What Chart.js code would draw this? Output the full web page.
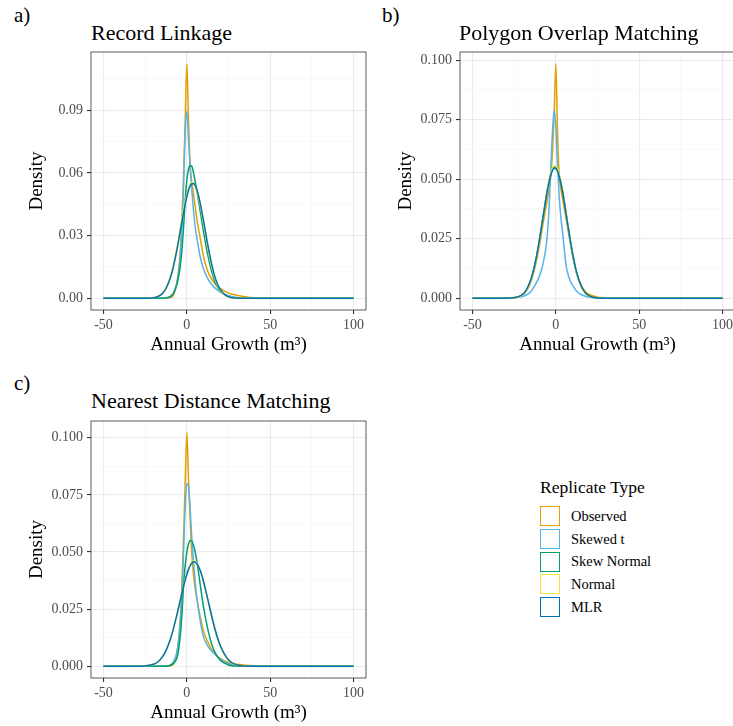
<!DOCTYPE html>
<html>
<head>
<meta charset="utf-8">
<script src="https://cdn.jsdelivr.net/npm/chart.js@4.4.1/dist/chart.umd.min.js"></script>
<style>
  html, body { margin: 0; padding: 0; background: #fff; overflow: hidden; }
  body { width: 733px; height: 726px; position: relative; font-family: "Liberation Serif", "DejaVu Serif", serif; color: #000; }
  .tag { position: absolute; font-size: 21px; line-height: 21px; white-space: nowrap; }
  .title { position: absolute; font-size: 22px; line-height: 22px; white-space: nowrap; }
  .panel { position: absolute; }
  #legend { position: absolute; left: 540px; top: 479px; }
  #legend .head { font-size: 17.5px; line-height: 17.5px; height: 26px; }
  #legend .row { display: flex; align-items: center; height: 22.7px; }
  #legend .key { width: 18px; height: 18px; border: 1.6px solid; background: #fff; }
  #legend .lab { margin-left: 11px; font-size: 14.5px; }
</style>
</head>
<body>

<div class="tag" style="left:14px; top:5px;">a)</div>
<div class="title" style="left:91px; top:22px;">Record Linkage</div>
<canvas id="chartA" class="panel"></canvas>

<div class="tag" style="left:382px; top:5px;">b)</div>
<div class="title" style="left:459px; top:22px;">Polygon Overlap Matching</div>
<canvas id="chartB" class="panel"></canvas>

<div class="tag" style="left:14px; top:373px;">c)</div>
<div class="title" style="left:91px; top:390px;">Nearest Distance Matching</div>
<canvas id="chartC" class="panel"></canvas>

<div id="legend"></div>

<script>
// density curves, all evaluated on the same grid of annual growth values
const xGrid = [-50, -40, -30, -25, -20, -17.5, -15, -12.5, -10, -8, -6, -5, -4, -3, -2, -1, 0,
               1, 2, 3, 4, 5, 6, 8, 10, 12.5, 15, 17.5, 20, 25, 30, 35, 40, 50, 75, 100];

const seriesNames = ['Observed', 'Skewed t', 'Skew Normal', 'Normal', 'MLR'];
const seriesColors = ['#E69F00', '#56B4E9', '#009E73', '#F0E442', '#0072B2'];

// a) Record Linkage
const observedA   = [0, 0, 0, 0, 0, 0, 0, 0, 0.0003, 0.0015, 0.0075, 0.0130, 0.0220, 0.0370, 0.0580, 0.0850, 0.1123,
                     0.0850, 0.0640, 0.0555, 0.0500, 0.0440, 0.0380, 0.0290, 0.0200, 0.0130, 0.0090, 0.0065, 0.0048, 0.0025, 0.0015, 0.0008, 0.0003, 0.0001, 0, 0];
const skewedTA    = [0, 0, 0, 0, 0, 0, 0, 0.0002, 0.0008, 0.0025, 0.0070, 0.0115, 0.0190, 0.0320, 0.0520, 0.0800, 0.0895,
                     0.0760, 0.0620, 0.0520, 0.0420, 0.0345, 0.0290, 0.0200, 0.0140, 0.0095, 0.0065, 0.0045, 0.0030, 0.0012, 0.0004, 0.0001, 0, 0, 0, 0];
const skewNormalA = [0, 0, 0, 0, 0, 0, 0, 0.0002, 0.0008, 0.0025, 0.0066, 0.0103, 0.0150, 0.0225, 0.0335, 0.0470, 0.0565,
                     0.0618, 0.0636, 0.0632, 0.0602, 0.0560, 0.0515, 0.0420, 0.0320, 0.0210, 0.0125, 0.0068, 0.0035, 0.0008, 0.0001, 0, 0, 0, 0, 0];
const normalA     = [0, 0, 0, 0, 0.0003, 0.0009, 0.0023, 0.0051, 0.0103, 0.0164, 0.0243, 0.0287, 0.0334, 0.0380, 0.0424, 0.0464, 0.0498,
                     0.0527, 0.0546, 0.0554, 0.0551, 0.0538, 0.0514, 0.0446, 0.0358, 0.0245, 0.0148, 0.0079, 0.0037, 0.0006, 0.0001, 0, 0, 0, 0, 0];
const mlrA        = [0, 0, 0, 0, 0.0003, 0.0008, 0.0020, 0.0047, 0.0095, 0.0153, 0.0229, 0.0272, 0.0318, 0.0364, 0.0408, 0.0450, 0.0486,
                     0.0516, 0.0537, 0.0548, 0.0549, 0.0540, 0.0521, 0.0457, 0.0372, 0.0259, 0.0160, 0.0087, 0.0043, 0.0007, 0.0001, 0, 0, 0, 0, 0];

// b) Polygon Overlap Matching
const observedB   = [0, 0, 0, 0.0002, 0.0014, 0.0032, 0.0068, 0.0130, 0.0215, 0.0300, 0.0380, 0.0420, 0.0460, 0.0520, 0.0610, 0.0780, 0.0985,
                     0.0700, 0.0520, 0.0460, 0.0420, 0.0380, 0.0340, 0.0260, 0.0180, 0.0105, 0.0058, 0.0030, 0.0016, 0.0005, 0.0002, 0.0001, 0, 0, 0, 0];
const skewedTB    = [0, 0, 0, 0.0002, 0.0008, 0.0015, 0.0028, 0.0055, 0.0090, 0.0135, 0.0210, 0.0275, 0.0390, 0.0550, 0.0700, 0.0788, 0.0720,
                     0.0560, 0.0430, 0.0340, 0.0280, 0.0210, 0.0145, 0.0085, 0.0055, 0.0030, 0.0016, 0.0009, 0.0005, 0.0001, 0, 0, 0, 0, 0, 0];
const skewNormalB = [0, 0, 0, 0.0002, 0.0015, 0.0036, 0.0076, 0.0142, 0.0236, 0.0325, 0.0416, 0.0457, 0.0493, 0.0521, 0.0541, 0.0550, 0.0549,
                     0.0538, 0.0516, 0.0486, 0.0450, 0.0408, 0.0362, 0.0270, 0.0187, 0.0105, 0.0053, 0.0023, 0.0009, 0.0001, 0, 0, 0, 0, 0, 0];
const normalB     = [0, 0, 0, 0.0001, 0.0013, 0.0033, 0.0073, 0.0140, 0.0236, 0.0327, 0.0419, 0.0461, 0.0498, 0.0527, 0.0548, 0.0556, 0.0556,
                     0.0545, 0.0523, 0.0493, 0.0455, 0.0412, 0.0366, 0.0272, 0.0188, 0.0105, 0.0052, 0.0022, 0.0009, 0.0001, 0, 0, 0, 0, 0, 0];
const mlrB        = [0, 0, 0, 0.0002, 0.0016, 0.0038, 0.0079, 0.0145, 0.0239, 0.0327, 0.0416, 0.0456, 0.0491, 0.0518, 0.0537, 0.0546, 0.0545,
                     0.0534, 0.0513, 0.0484, 0.0449, 0.0408, 0.0363, 0.0273, 0.0191, 0.0109, 0.0056, 0.0025, 0.0010, 0.0001, 0, 0, 0, 0, 0, 0];

// c) Nearest Distance Matching
const observedC   = [0, 0, 0, 0, 0, 0, 0, 0, 0.0002, 0.0010, 0.0060, 0.0110, 0.0200, 0.0350, 0.0560, 0.0800, 0.1022,
                     0.0820, 0.0640, 0.0490, 0.0400, 0.0340, 0.0295, 0.0220, 0.0155, 0.0108, 0.0073, 0.0050, 0.0035, 0.0016, 0.0009, 0.0005, 0.0002, 0.0001, 0, 0];
const skewedTC    = [0, 0, 0, 0, 0, 0, 0, 0.0001, 0.0005, 0.0020, 0.0060, 0.0110, 0.0190, 0.0300, 0.0490, 0.0700, 0.0800,
                     0.0790, 0.0690, 0.0560, 0.0460, 0.0370, 0.0300, 0.0200, 0.0130, 0.0090, 0.0066, 0.0048, 0.0032, 0.0012, 0.0004, 0.0001, 0, 0, 0, 0];
const skewNormalC = [0, 0, 0, 0, 0, 0, 0, 0.0001, 0.0004, 0.0014, 0.0035, 0.0070, 0.0130, 0.0220, 0.0350, 0.0440, 0.0500,
                     0.0535, 0.0550, 0.0548, 0.0530, 0.0500, 0.0460, 0.0360, 0.0260, 0.0165, 0.0095, 0.0052, 0.0027, 0.0006, 0.0001, 0, 0, 0, 0, 0];
const normalC     = [0, 0, 0, 0.0002, 0.0008, 0.0018, 0.0037, 0.0068, 0.0115, 0.0166, 0.0225, 0.0257, 0.0290, 0.0322, 0.0353, 0.0382, 0.0407,
                     0.0428, 0.0445, 0.0456, 0.0461, 0.0459, 0.0451, 0.0420, 0.0370, 0.0292, 0.0213, 0.0142, 0.0087, 0.0025, 0.0005, 0.0001, 0, 0, 0, 0];
const mlrC        = [0, 0, 0, 0.0002, 0.0009, 0.0019, 0.0038, 0.0069, 0.0116, 0.0166, 0.0224, 0.0255, 0.0287, 0.0318, 0.0349, 0.0377, 0.0402,
                     0.0423, 0.0440, 0.0451, 0.0457, 0.0456, 0.0449, 0.0420, 0.0372, 0.0296, 0.0218, 0.0147, 0.0092, 0.0028, 0.0006, 0.0001, 0, 0, 0, 0];

// axis breaks (major carry labels, minor only get a faint grid line)
const xMajor = [-50, 0, 50, 100];
const xMinor = [-25, 25, 75];
const yMajorA = [0, 0.03, 0.06, 0.09];
const yMinorA = [0.015, 0.045, 0.075, 0.105];
const yMajorBC = [0, 0.025, 0.05, 0.075, 0.1];
const yMinorBC = [0.0125, 0.0375, 0.0625, 0.0875];

const SERIF = "'Liberation Serif', 'DejaVu Serif', serif";

// ggplot-style border round the plotting area
const panelBorder = {
    id: 'panelBorder',
    afterDraw(chart) {
        const { ctx, chartArea: a } = chart;
        ctx.save();
        ctx.strokeStyle = '#333333';
        ctx.lineWidth = 0.8;
        ctx.strokeRect(a.left, a.top, a.right - a.left, a.bottom - a.top);
        ctx.restore();
    }
};

function isMajor(list, v) {
    return list.some(m => Math.abs(m - v) < 1e-9);
}

function axisBreaks(major, minor) {
    return function (scale) {
        scale.ticks = major.concat(minor).sort((p, q) => p - q).map(v => ({ value: v }));
    };
}

function gridStyle(major) {
    return {
        color: ctx => isMajor(major, ctx.tick.value) ? '#EBEBEB' : '#F5F5F5',
        lineWidth: ctx => isMajor(major, ctx.tick.value) ? 1.1 : 0.6,
        tickColor: ctx => isMajor(major, ctx.tick.value) ? '#333333' : 'rgba(0,0,0,0)',
        tickLength: 4,
        drawTicks: true
    };
}

// fixed axis sizes, and no extra room kept for overhanging tick labels
function fixSize(prop, size) {
    return function (scale) {
        scale[prop] = size;
        scale.paddingTop = 0;
        scale.paddingBottom = 0;
        scale.paddingLeft = 0;
        scale.paddingRight = 0;
    };
}

/**
 * One density panel: five replicate curves on a shared x grid
 */
function drawPanel(canvasId, box, series, yMajor, yMinor, yMin, yMax, digits) {
    const canvas = document.getElementById(canvasId);
    canvas.style.left = box.left + 'px';
    canvas.style.top = box.top + 'px';
    canvas.width = box.width;
    canvas.height = box.height;
    canvas.style.width = box.width + 'px';
    canvas.style.height = box.height + 'px';

    const datasets = series.map((ys, i) => ({
        label: seriesNames[i],
        data: xGrid.map((x, j) => ({ x: x, y: ys[j] })),
        borderColor: seriesColors[i],
        borderWidth: 1.5,
        pointRadius: 0,
        fill: false,
        cubicInterpolationMode: 'monotone',
        order: series.length - i
    }));

    return new Chart(canvas.getContext('2d'), {
        type: 'line',
        data: { datasets: datasets },
        plugins: [panelBorder],
        options: {
            responsive: false,
            animation: false,
            events: [],
            layout: { padding: { top: 7, right: 6, left: 25.5, bottom: 0 } },
            plugins: { legend: { display: false }, tooltip: { enabled: false } },
            scales: {
                x: {
                    type: 'linear',
                    min: -57.5,
                    max: 107.5,
                    afterBuildTicks: axisBreaks(xMajor, xMinor),
                    afterFit: fixSize('height', box.xAxisHeight),
                    border: { display: false },
                    grid: gridStyle(xMajor),
                    ticks: {
                        autoSkip: false,
                        maxRotation: 0,
                        padding: 3,
                        color: '#4D4D4D',
                        font: { family: SERIF, size: 14 },
                        callback: v => isMajor(xMajor, v) ? String(v) : ''
                    },
                    title: {
                        display: true,
                        text: 'Annual Growth (m\u00B3)',
                        color: '#000',
                        font: { family: SERIF, size: 19 },
                        padding: { top: 0, bottom: 0 }
                    }
                },
                y: {
                    type: 'linear',
                    min: yMin,
                    max: yMax,
                    afterBuildTicks: axisBreaks(yMajor, yMinor),
                    afterFit: fixSize('width', 65.5),
                    border: { display: false },
                    grid: gridStyle(yMajor),
                    ticks: {
                        autoSkip: false,
                        padding: 4,
                        color: '#4D4D4D',
                        font: { family: SERIF, size: 14 },
                        callback: v => isMajor(yMajor, v) ? v.toFixed(digits) : ''
                    },
                    title: {
                        display: true,
                        text: 'Density',
                        color: '#000',
                        font: { family: SERIF, size: 19 },
                        padding: { top: 0, bottom: 0 }
                    }
                }
            }
        }
    });
}

drawPanel('chartA', { left: 0, top: 45, width: 372, height: 311, xAxisHeight: 46 },
    [observedA, skewedTA, skewNormalA, normalA, mlrA], yMajorA, yMinorA, -0.0056, 0.1179, 2);

drawPanel('chartB', { left: 369, top: 45, width: 372, height: 311, xAxisHeight: 46 },
    [observedB, skewedTB, skewNormalB, normalB, mlrB], yMajorBC, yMinorBC, -0.0049, 0.1034, 3);

drawPanel('chartC', { left: 0, top: 414, width: 372, height: 310, xAxisHeight: 46 },
    [observedC, skewedTC, skewNormalC, normalC, mlrC], yMajorBC, yMinorBC, -0.0051, 0.1073, 3);

// legend for the replicate types
const legend = document.getElementById('legend');
legend.innerHTML = '<div class="head">Replicate Type</div>' +
    seriesNames.map((name, i) =>
        `<div class="row"><div class="key" style="border-color:${seriesColors[i]}"></div><div class="lab">${name}</div></div>`
    ).join('');
</script>
</body>
</html>
